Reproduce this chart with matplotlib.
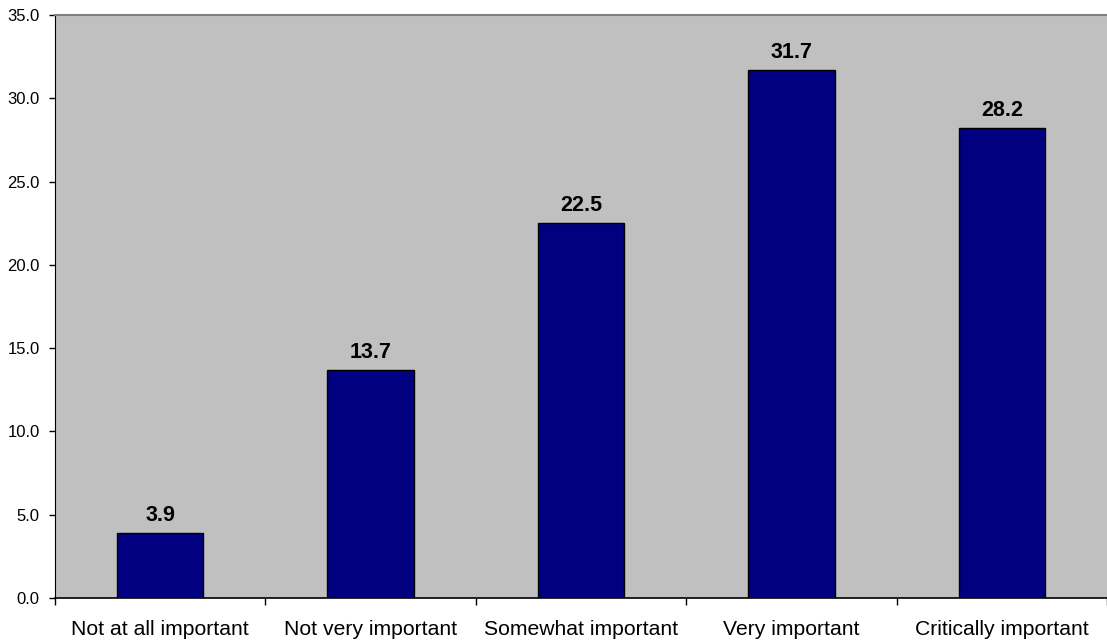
import matplotlib.pyplot as plt
import numpy as np

plt.rcParams['font.family'] = ['Liberation Sans', 'DejaVu Sans']

categories = ["Not at all important", "Not very important", "Somewhat important",
              "Very important", "Critically important"]
values = [3.9, 13.7, 22.5, 31.7, 28.2]
yticks = [0, 5, 10, 15, 20, 25, 30, 35]

fig = plt.figure(figsize=(11.07, 6.41), dpi=100)
ax = fig.add_axes([55/1107, 43/641, 1 - 55/1107, 583/641])
ax.set_facecolor('#C0C0C0')

x = np.arange(len(categories))
ax.bar(x, values, width=0.41, color='#000080', edgecolor='black', linewidth=1, zorder=3)

for xi, v in zip(x, values):
    ax.annotate(f"{v:.1f}", (xi, v), xytext=(0, 8.5), textcoords='offset points',
                ha='center', va='baseline', fontsize=15.5, fontweight='bold')

ax.set_xlim(-0.5, len(categories) - 0.5)
ax.set_ylim(0, 35)
ax.set_yticks(yticks)
ax.set_yticklabels([f"{t:.1f}" for t in yticks], fontsize=12)
ax.tick_params(axis='y', length=4, width=1, pad=7, direction='out')

# ticks between categories, labels centred under bars
ax.set_xticks(np.arange(len(categories) + 1) - 0.5)
ax.set_xticklabels([])
ax.set_xticks(x, minor=True)
ax.set_xticklabels(categories, minor=True, fontsize=15.2)
ax.tick_params(axis='x', which='major', length=5, width=1, direction='out')
ax.tick_params(axis='x', which='minor', length=0, pad=15.5)

ax.spines['right'].set_visible(False)
ax.spines['top'].set_color('#808080')
ax.spines['top'].set_linewidth(1.5)
ax.spines['left'].set_color('black')
ax.spines['bottom'].set_color('black')
ax.spines['bottom'].set_linewidth(1.2)

fig.savefig('out.png', dpi=100)
